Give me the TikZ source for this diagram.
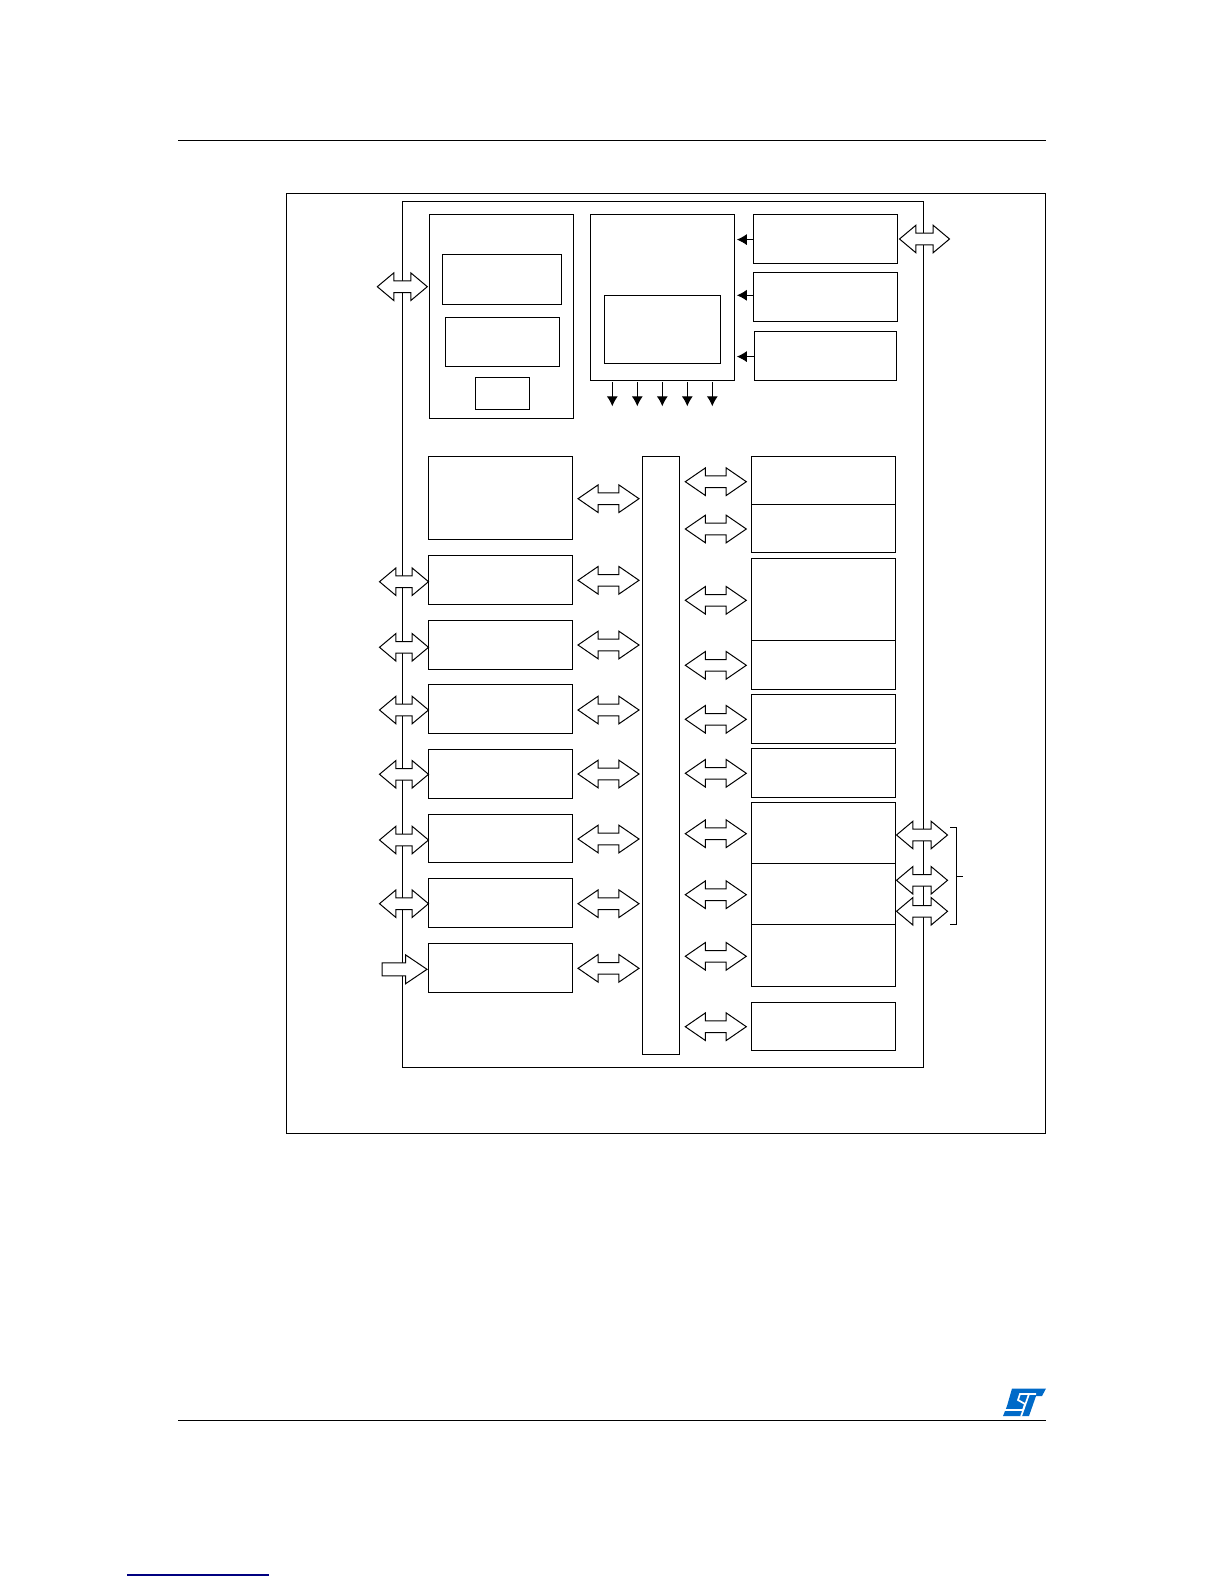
\documentclass[tikz,border=0pt]{standalone}
\usepackage{xcolor}
\usetikzlibrary{arrows.meta,shapes.arrows}
\definecolor{linkblue}{RGB}{0,0,128}
\definecolor{logoblue}{RGB}{0,106,200}
\tikzset{
	block/.style={draw,rectangle,anchor=north west,inner sep=0pt,outer sep=0pt,line width=1.1pt},
	rule/.style={line width=1.1pt},
	twoway/.style={double arrow,draw,fill=white,line width=1pt,inner sep=5.3pt,outer sep=0pt,double arrow head extend=8pt,double arrow tip angle=#1},
	sideway/.style={twoway=80,minimum height=49pt},
	topway/.style={twoway=80,minimum height=50pt},
	midway/.style={twoway=69,minimum height=61pt},
	oneway/.style={single arrow,draw,fill=white,line width=1pt,inner sep=6pt,outer sep=0pt,single arrow head extend=8pt,single arrow tip angle=68,minimum height=45pt,anchor=tip},
	tiparrow/.style={line width=0.9pt,-{Latex[length=10pt,width=11pt]}}
}
\begin{document}
\begin{tikzpicture}[x=1pt,y=-1pt]
	\useasboundingbox (0,0) rectangle (1224,1584);
	\coordinate (headL) at (178.3,140.3);
	\coordinate (headR) at (1045.7,140.3);
	\coordinate (footL) at (178.3,1420.5);
	\coordinate (footR) at (1045.7,1420.5);
	\coordinate (linkL) at (127,1575);
	\coordinate (linkR) at (268.7,1575);
	\draw[rule] (headL) -- (headR);
	\draw[line width=0.9pt] (footL) -- (footR);
	\draw[line width=1.1pt,linkblue] (linkL) -- (linkR);
	\node[block,minimum width=759pt,minimum height=940pt] (frame) at (286.7,193.3) {};
	\node[block,minimum width=520.6pt,minimum height=866pt] (supply) at (402.7,201.3) {};

	\node[topway] (aTop) at (402.3,286.7) {};
	\node[topway] (aExt) at (924.5,239) {};
	\node[sideway] (aL2) at (404,581.7) {};
	\node[sideway] (aL3) at (404,647.3) {};
	\node[sideway] (aL4) at (404,710) {};
	\node[sideway] (aL5) at (404,774.3) {};
	\node[sideway] (aL6) at (404,840) {};
	\node[sideway] (aL7) at (404,903.7) {};
	\node[oneway] (aL8) at (427,969.3) {};

	\node[midway] (aM1) at (608.5,498.7) {};
	\node[midway] (aM2) at (608.5,580.3) {};
	\node[midway] (aM3) at (608.5,645) {};
	\node[midway] (aM4) at (608.5,710) {};
	\node[midway] (aM5) at (608.5,774) {};
	\node[midway] (aM6) at (608.5,839) {};
	\node[midway] (aM7) at (608.5,903.7) {};
	\node[midway] (aM8) at (608.5,968.3) {};

	\node[midway] (aR1) at (715.8,481.7) {};
	\node[midway] (aR2) at (715.8,529) {};
	\node[midway] (aR3) at (715.8,600.3) {};
	\node[midway] (aR4) at (715.8,665.3) {};
	\node[midway] (aR5) at (715.8,719.3) {};
	\node[midway] (aR6) at (715.8,773.3) {};
	\node[midway] (aR7) at (715.8,833.7) {};
	\node[midway] (aR8) at (715.8,894.7) {};
	\node[midway] (aR9) at (715.8,956.3) {};
	\node[midway] (aR10) at (715.8,1026.7) {};

	\node[twoway=80,minimum height=51pt] (aB1) at (922,835) {};
	\node[twoway=80,minimum height=51pt] (aB2) at (922,880.3) {};
	\node[twoway=80,minimum height=51pt] (aB3) at (922,911.3) {};

	\node[block,minimum width=144pt,minimum height=204pt] (core) at (429.3,214.3) {};
	\node[block,minimum width=119.4pt,minimum height=50pt] (coreA) at (442.3,254.3) {};
	\node[block,minimum width=114pt,minimum height=49pt] (coreB) at (445.3,317.3) {};
	\node[block,minimum width=54pt,minimum height=32pt] (coreC) at (475.3,377.3) {};

	\node[block,minimum width=144pt,minimum height=166pt] (ctrl) at (590.3,214.3) {};
	\node[block,minimum width=116.4pt,minimum height=68pt] (ctrlA) at (604.3,295.3) {};

	\node[block,minimum width=144.4pt,minimum height=49pt] (srcA) at (753.3,214.3) {};
	\node[block,minimum width=144.4pt,minimum height=49pt] (srcB) at (753.3,272.3) {};
	\node[block,minimum width=142.4pt,minimum height=49pt] (srcC) at (754.3,331.3) {};

	\node[block,minimum width=144pt,minimum height=83pt] (left1) at (428.3,456.3) {};
	\node[block,minimum width=144pt,minimum height=49pt] (left2) at (428.3,555.3) {};
	\node[block,minimum width=144pt,minimum height=49pt] (left3) at (428.3,620.3) {};
	\node[block,minimum width=144pt,minimum height=49pt] (left4) at (428.3,684.3) {};
	\node[block,minimum width=144pt,minimum height=49pt] (left5) at (428.3,749.3) {};
	\node[block,minimum width=144pt,minimum height=48pt] (left6) at (428.3,814.3) {};
	\node[block,minimum width=144pt,minimum height=49pt] (left7) at (428.3,878.3) {};
	\node[block,minimum width=144pt,minimum height=49pt] (left8) at (428.3,943.3) {};

	\node[block,minimum width=37.4pt,minimum height=598pt] (bus) at (642.3,456.3) {};

	\node[block,minimum width=144.4pt,minimum height=48pt] (right1) at (751.3,456.3) {};
	\node[block,minimum width=144.4pt,minimum height=48pt] (right2) at (751.3,504.3) {};
	\node[block,minimum width=144.4pt,minimum height=82pt] (right3) at (751.3,558.3) {};
	\node[block,minimum width=144.4pt,minimum height=49pt] (right4) at (751.3,640.3) {};
	\node[block,minimum width=144.4pt,minimum height=49pt] (right5) at (751.3,694.3) {};
	\node[block,minimum width=144.4pt,minimum height=49pt] (right6) at (751.3,748.3) {};
	\node[block,minimum width=144.4pt,minimum height=61pt] (right7) at (751.3,802.3) {};
	\node[block,minimum width=144.4pt,minimum height=61pt] (right8) at (751.3,863.3) {};
	\node[block,minimum width=144.4pt,minimum height=62pt] (right9) at (751.3,924.3) {};
	\node[block,minimum width=144.4pt,minimum height=48pt] (right10) at (751.3,1002.3) {};

	\draw[tiparrow,shorten >=2.5pt] ([yshift=-0.8pt]srcA.west) -- ([yshift=-0.8pt]srcA.west -| ctrl.east);
	\draw[tiparrow,shorten >=2.5pt] ([yshift=1.5pt]srcB.west) -- ([yshift=1.5pt]srcB.west -| ctrl.east);
	\draw[tiparrow,shorten >=2.5pt] ([yshift=-0.8pt]srcC.west) -- ([yshift=-0.8pt]srcC.west -| ctrl.east);

	\coordinate (out1) at (612.3,382.3);
	\coordinate (out2) at (637.3,382.3);
	\coordinate (out3) at (662.3,382.3);
	\coordinate (out4) at (687.3,382.3);
	\coordinate (out5) at (712.3,382.3);
	\draw[tiparrow] (out1) -- ++(0,24);
	\draw[tiparrow] (out2) -- ++(0,24);
	\draw[tiparrow] (out3) -- ++(0,24);
	\draw[tiparrow] (out4) -- ++(0,24);
	\draw[tiparrow] (out5) -- ++(0,24);

	\coordinate (brA) at (950,827.3);
	\coordinate (brB) at (956.7,827.3);
	\coordinate (brC) at (956.7,924.3);
	\coordinate (brD) at (950,924.3);
	\coordinate (brE) at (956.7,876.3);
	\coordinate (brF) at (962.7,876.3);
	\draw[line width=1.1pt] (brA) -- (brB) -- (brC) -- (brD);
	\draw[line width=1.1pt] (brE) -- (brF);

	\fill[logoblue] (1012,1388.5) -- (1046,1388.5) -- (1042,1396) -- (1036,1396) -- (1029,1416) -- (1003,1416) -- (1007,1406) -- cycle;
	\draw[white,line width=1.7pt] (1036,1394) -- (1020,1394) -- (1018,1400) -- (1025,1404) -- (1023,1410) -- (1005,1410);
	\draw[white,line width=1.7pt] (1029,1394) -- (1021,1416.5);
\end{tikzpicture}
\end{document}
